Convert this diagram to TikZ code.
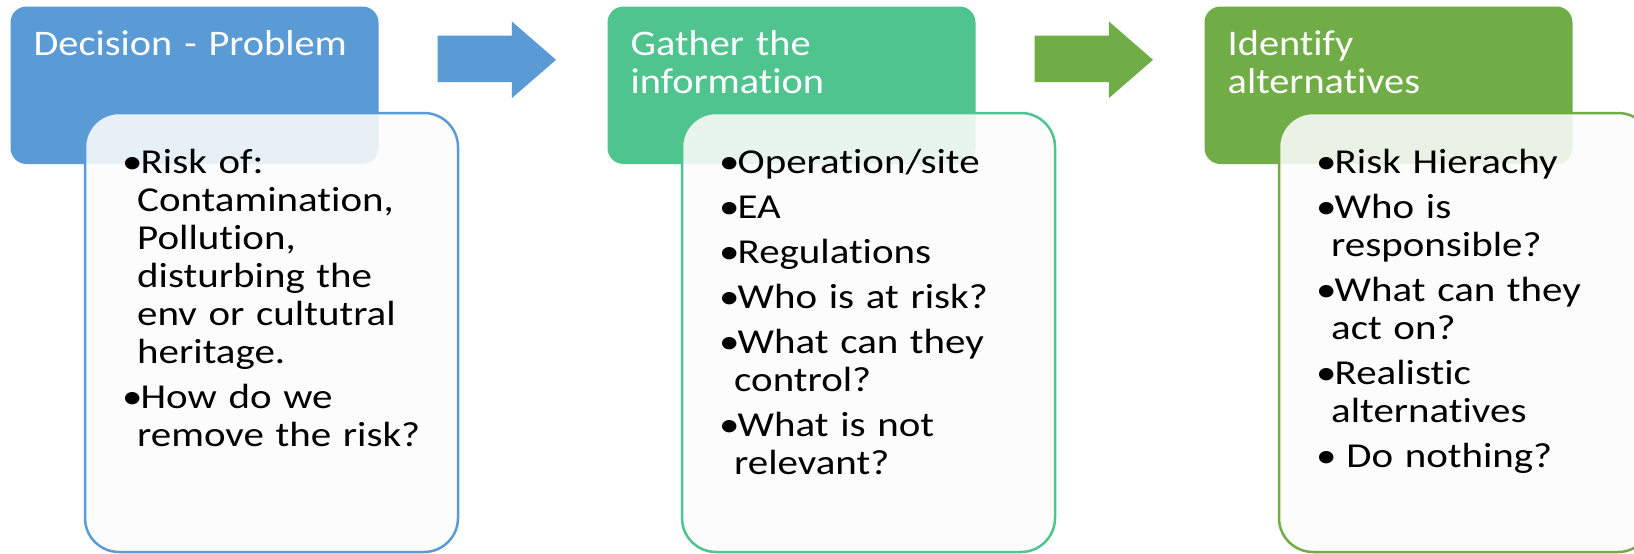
\documentclass[tikz,border=0pt]{standalone}
\usepackage{fontspec}
\setmainfont{Carlito}[Ligatures={NoCommon}]
\newfontfamily\hdrfont{Carlito}[FakeStretch=1.12,Ligatures={NoCommon},RawFeature={-liga;-dlig}]
\newfontfamily\bodyfont{Carlito}[FakeStretch=1.17,Ligatures={NoCommon},RawFeature={-liga;-dlig}]
\definecolor{cblue}{RGB}{91,155,213}
\definecolor{cmint}{RGB}{80,196,143}
\definecolor{cgreen}{RGB}{112,173,71}
\definecolor{cpaper}{RGB}{252,252,252}
\newcommand\bul{\makebox[18.5pt][l]{•}}
\newcommand\cont{\hspace*{15pt}}
\begin{document}
\begin{tikzpicture}[x=1pt,y=-1pt,
  hdrbox/.style={draw=none, rounded corners=16pt, minimum width=368pt,
    minimum height=157.5pt, inner sep=0pt, outer sep=0pt, anchor=north west},
  bodybox/.style={draw=#1, line width=2.5pt, fill=cpaper, fill opacity=0.88,
    draw opacity=1, rounded corners=34pt, minimum width=373pt,
    minimum height=439pt, inner sep=0pt, outer sep=0pt, anchor=north west},
  hdrtxt/.style={text=white, inner sep=0pt, anchor=base west, text width=330pt,
    align=left, font=\hdrfont\fontsize{36pt}{38pt}\selectfont},
  bodytxt/.style={text=black, inner sep=0pt, anchor=base west, text width=330pt,
    align=left, font=\bodyfont\fontsize{35pt}{38pt}\selectfont},
  blockarrow/.style={fill=#1, draw=none}
]
\useasboundingbox (0,0) rectangle (1634,554);
\clip (0,0) rectangle (1634,554);
\fill[white] (0,0) rectangle (1634,554);

% headers
\node[hdrbox, fill=cblue]  (h1) at (10.5,6.5) {};
\node[hdrbox, fill=cmint]  (h2) at (607.5,6.5) {};
\node[hdrbox, fill=cgreen] (h3) at (1204.5,6.5) {};

\node[hdrtxt] (ht1) at (33.5,55) {Decision - Problem};
\node[hdrtxt] (ht2) at (630.5,55) {Gather the\\information};
\node[hdrtxt] (ht3) at (1227.5,55) {Identify\\alternatives};

% body boxes
\node[bodybox=cblue]  (b1) at (85,113) {};
\node[bodybox=cmint]  (b2) at (682,113) {};
\node[bodybox=cgreen] (b3) at (1279,113) {};

% arrows
\fill[blockarrow=cblue] (437.5,35.7) -- (511.8,35.7) -- (511.8,21.4) -- (556,59.8)
  -- (511.8,98.2) -- (511.8,82.1) -- (437.5,82.1) -- cycle;
\begin{scope}[xshift=597pt]
\fill[blockarrow=cgreen] (437.5,35.7) -- (511.8,35.7) -- (511.8,21.4) -- (556,59.8)
  -- (511.8,98.2) -- (511.8,82.1) -- (437.5,82.1) -- cycle;
\end{scope}

% body texts
\node[bodytxt] (t1) at (122,173) {\bul Risk of:\\
\cont Contamination,\\
\cont Pollution,\\
\cont disturbing the\\
\cont env or cultutral\\
\cont heritage.\\[7pt]
\bul How do we\\
\cont remove the risk?};

\node[bodytxt] (t2) at (719,173) {\bul Operation/site\\[7pt]
\bul EA\\[7pt]
\bul Regulations\\[7pt]
\bul Who is at risk?\\[7pt]
\bul What can they\\
\cont control?\\[7pt]
\bul What is not\\
\cont relevant?};

\node[bodytxt] (t3) at (1316,173) {\bul Risk Hierachy\\[7pt]
\bul Who is\\
\cont responsible?\\[7pt]
\bul What can they\\
\cont act on?\\[7pt]
\bul Realistic\\
\cont alternatives\\[7pt]
\bul\ Do nothing?};
\end{tikzpicture}
\end{document}
